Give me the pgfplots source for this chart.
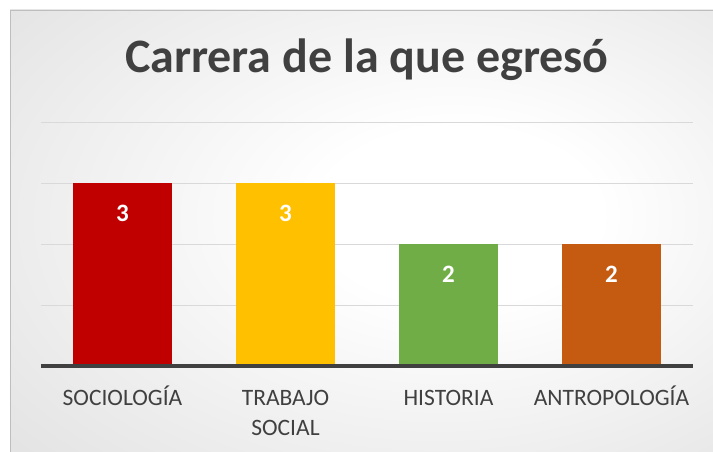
\documentclass[border=0pt]{standalone}
\usepackage{fontspec}
\setmainfont{Carlito}
\usepackage{pgfplots}
\pgfplotsset{compat=1.18}
\definecolor{cSoc}{HTML}{C00000}
\definecolor{cTra}{HTML}{FFC000}
\definecolor{cHis}{HTML}{70AD47}
\definecolor{cAnt}{HTML}{C55A11}
\definecolor{titlegray}{HTML}{404040}
\definecolor{labgray}{HTML}{404040}
\definecolor{gridgray}{HTML}{D9D9D9}
\definecolor{bgA}{rgb}{0.85,0.85,0.85}
\definecolor{bgB}{rgb}{0.77,0.77,0.77}
\pgfdeclareradialshading{chartbg}{\pgfpoint{8bp}{2bp}}{color(0bp)=(white); color(10bp)=(white); color(50bp)=(bgA); color(75bp)=(bgB)}
\begin{document}
\begin{tikzpicture}[x=1pt,y=1pt]
\useasboundingbox (0pt,0pt) rectangle (713pt,451pt);
\fill[white] (0pt,0pt) rectangle (713pt,451pt);
\shade[shading=chartbg] (10pt,0pt) rectangle (713pt,441pt);
\draw[color={rgb,255:red,190;green,190;blue,190}] (10.5pt,-1pt) -- (10.5pt,440.5pt) -- (714pt,440.5pt);
\node[font=\fontsize{48}{54}\selectfont\bfseries, text=titlegray] at (367pt,391pt) {Carrera de la que egresó};
\begin{axis}[
  at={(41pt,85pt)}, anchor=south west,
  scale only axis, width=652pt, height=244pt,
  xmin=-0.5, xmax=3.5, ymin=0, ymax=4,
  axis line style={draw=none},
  ytick={1,2,3,4}, yticklabels={},
  ymajorgrids, grid style={gridgray, line width=1pt},
  major tick length=0pt,
  xtick={0,1,2,3},
  xticklabels={\rule{0pt}{20pt}SOCIOLOGÍA, {\rule{0pt}{20pt}TRABAJO\\SOCIAL}, \rule{0pt}{20pt}HISTORIA, \rule{0pt}{20pt}ANTROPOLOGÍA},
  xticklabel style={align=center, font=\fontsize{23.5}{30}\selectfont, text=labgray, anchor=north, yshift=-16pt},
  ybar, bar width=99pt, bar shift=0pt,
  nodes near coords={\fontsize{25}{28}\selectfont\bfseries\pgfmathprintnumber[assume math mode=true]{\pgfplotspointmeta}},
  every node near coord/.append style={text=white, anchor=center, yshift=-30pt},
  clip=false,
]
\addplot[fill=cSoc, draw=none] coordinates {(0,3)};
\addplot[fill=cTra, draw=none] coordinates {(1,3)};
\addplot[fill=cHis, draw=none] coordinates {(2,2)};
\addplot[fill=cAnt, draw=none] coordinates {(3,2)};
\draw[labgray, line width=3.5pt] (axis cs:-0.5,0) -- (axis cs:3.5,0);
\end{axis}
\end{tikzpicture}
\end{document}
